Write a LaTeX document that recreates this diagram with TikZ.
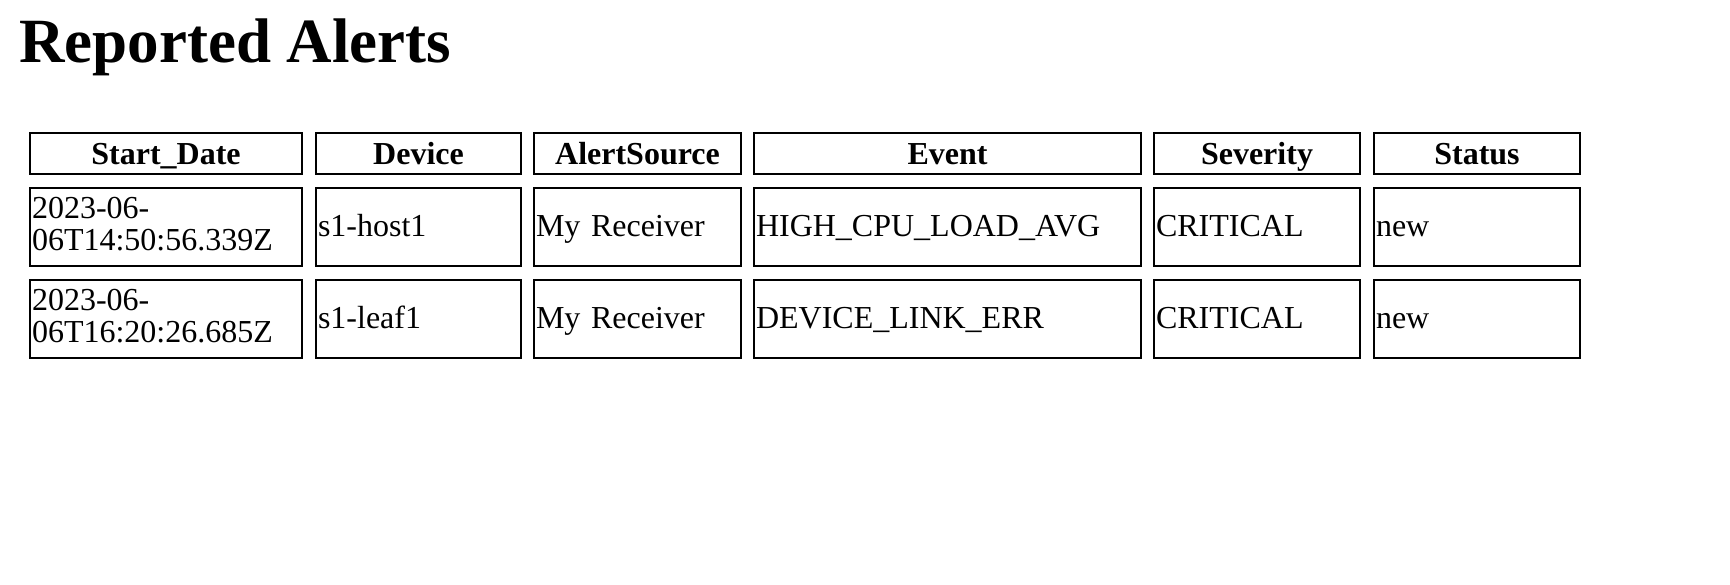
\documentclass[tikz,border=0pt]{standalone}
\usepackage{fontspec}
\setmainfont{Liberation Serif}
\usetikzlibrary{positioning}
\tikzset{
    box/.style = { draw=black,line width=2pt,inner sep=0, },
    head/.style = { box,minimum height=41,font=\fontsize{32}{32}\selectfont\bfseries,
        text height=25pt,text depth=4pt,align=center, },
    cell/.style = { box,minimum height=78,font=\fontsize{32}{32}\selectfont,
        inner xsep=2pt,align=left,text height=25pt,text depth=6pt, },
    twoline/.style = { cell,text height=22pt,text depth=40pt, },
    title/.style = { font=\fontsize{63}{63}\selectfont\bfseries,inner sep=0,anchor=base west, },
}
\newcommand{\alertcol}[7]{
    \pgfmathsetmacro{\tw}{#3-4}
    \node [head,minimum width=#3] (#1h) at (#2,153.5) {#4};
    \node [#5,minimum width=#3,text width=\tw pt] (#1a) at (#2,227) {#6};
    \node [#5,minimum width=#3,text width=\tw pt] (#1b) at (#2,319) {#7};
}

\begin{document}
\begin{tikzpicture}[x=1pt,y=-1pt]

    \useasboundingbox (0,0) rectangle (1730,584);

    \node [title] (heading) at (19,62) {Reported Alerts};

    \alertcol{date}{166}{272}{Start\_Date}{twoline}{2023-06-\\06T14:50:56.339Z}{2023-06-\\06T16:20:26.685Z}
    \alertcol{device}{418.5}{205}{Device}{cell}{s1-host1}{s1-leaf1}
    \alertcol{source}{637.5}{207}{AlertSource}{cell}{My Receiver}{My Receiver}
    \alertcol{event}{947.5}{387}{Event}{cell}{HIGH\_CPU\_LOAD\_AVG}{DEVICE\_LINK\_ERR}
    \alertcol{severity}{1257}{206}{Severity}{cell}{CRITICAL}{CRITICAL}
    \alertcol{status}{1477}{206}{Status}{cell}{new}{new}

\end{tikzpicture}
\end{document}
